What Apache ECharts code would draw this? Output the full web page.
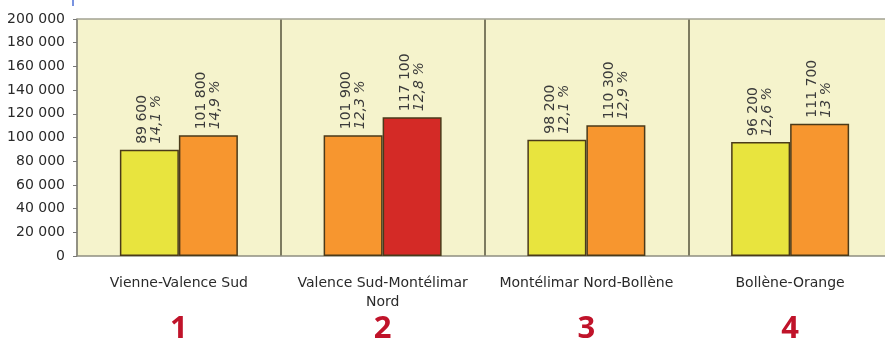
<!DOCTYPE html>
<html><head><meta charset="utf-8">
<script src="https://cdn.jsdelivr.net/npm/echarts@6/dist/echarts.min.js"></script>
<style>html,body{margin:0;padding:0;background:#fff}#c{width:885px;height:342px}</style>
</head><body><div id="c"></div>
<script>
const categories = ["Vienne-Valence Sud", "Valence Sud-Montélimar\nNord", "Montélimar Nord-Bollène", "Bollène-Orange"];
const sectionNumbers = ["1", "2", "3", "4"];
const valuesA = [89600, 101900, 98200, 96200];
const valuesB = [101800, 117100, 110300, 111700];
const labelsA = ["89 600", "101 900", "98 200", "96 200"];
const labelsB = ["101 800", "117 100", "110 300", "111 700"];
const pctA = ["14,1 %", "12,3 %", "12,1 %", "12,6 %"];
const pctB = ["14,9 %", "12,8 %", "12,9 %", "13 %"];
const colorsA = ["#e8e43e", "#f7962f", "#e8e43e", "#e8e43e"];
const colorsB = ["#f7962f", "#d42a26", "#f7962f", "#f7962f"];

function fmt(v){ return String(v).replace(/\B(?=(\d{3})+(?!\d))/g, " "); }

function mkSeries(vals, labs, pcts, cols){
  return {
    type: "bar", barWidth: 59, barGap: "0%",
    data: vals.map((v,i)=>({value:v, itemStyle:{color:cols[i]}})),
    itemStyle: {borderColor: "#4a3a1a", borderWidth: 1.5},
    label: {
      show: true, position: "top", rotate: 90, align: "left", verticalAlign: "middle",
      distance: 6,
      formatter: p => "{a|" + labs[p.dataIndex] + "}\n{b|" + pcts[p.dataIndex] + "}",
      rich: {
        a: {fontFamily: "DejaVu Sans", fontSize: 14, color: "#3a3a3a", lineHeight: 14},
        b: {fontFamily: "DejaVu Sans", fontSize: 14, color: "#3a3a3a", fontStyle: "italic", lineHeight: 14}
      }
    }
  };
}

const chart = echarts.init(document.getElementById("c"), null, {renderer: "canvas"});
chart.setOption({
  animation: false,
  grid: {left: 77, width: 815, top: 19, height: 237, outerBoundsMode: "none", containLabel: false,
         show: true, backgroundColor: "#f5f3cc", borderWidth: 0},
  xAxis: [{
    type: "category", data: categories,
    axisLine: {show: true, lineStyle: {color: "#8f8e80", width: 1.5}},
    axisTick: {show: false},
    splitLine: {show: true, lineStyle: {color: "#55533c", width: 1.5}},
    axisLabel: {fontFamily: "DejaVu Sans", fontSize: 14, color: "#2a2a2a", margin: 18, lineHeight: 19, interval: 0}
  }, {
    type: "category", data: sectionNumbers, position: "bottom", offset: 58,
    axisLine: {show: false}, axisTick: {show: false},
    axisLabel: {fontFamily: "Open Sans", fontWeight: "bold", fontSize: 31, color: "#c0132a", margin: 0}
  }, {
    type: "category", data: categories, position: "top",
    axisLine: {show: true, lineStyle: {color: "#a3a293", width: 1.5}},
    axisTick: {show: false}, axisLabel: {show: false}, splitLine: {show: false}
  }],
  yAxis: {
    type: "value", min: 0, max: 200000, interval: 20000,
    axisLine: {show: true, lineStyle: {color: "#9a998c", width: 1.5}},
    axisTick: {show: true, length: 4, lineStyle: {color: "#777"}},
    splitLine: {show: false},
    axisLabel: {fontFamily: "DejaVu Sans", fontSize: 14, color: "#2a2a2a", margin: 12, formatter: v => fmt(v)}
  },
  series: [mkSeries(valuesA, labelsA, pctA, colorsA), mkSeries(valuesB, labelsB, pctB, colorsB)],
  graphic: [{type: "line", shape: {x1: 73, y1: 0, x2: 73, y2: 6}, style: {stroke: "#4d6fd6", lineWidth: 1.5}}]
});
</script></body></html>
